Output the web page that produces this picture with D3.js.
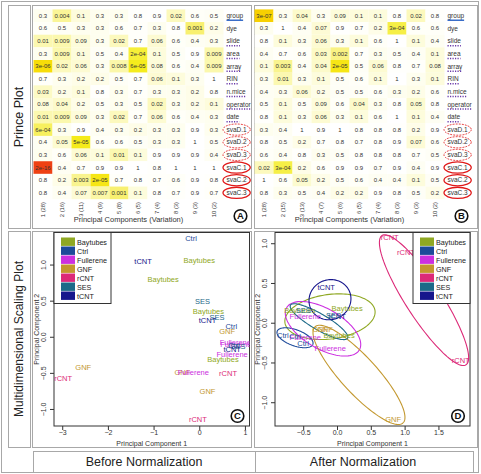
<!DOCTYPE html>
<html><head><meta charset="utf-8">
<script src="https://cdn.jsdelivr.net/npm/d3@7"></script>
<style>body{margin:0;background:#fff} svg{display:block;font-family:"Liberation Sans",Arial,sans-serif}</style>
</head><body><svg id="c" width="481" height="474"></svg>
<script>
// ---------------- DATA ----------------
const rowLabels = ["group","dye","slide","area","array","RIN","n.mice","operator","date","svaD.1","svaD.2","svaD.3","svaC.1","svaC.2","svaC.3"];
const colLabelsA = ["1 (28)","2 (16)","3 (11)","4 (9)","5 (8)","6 (5)","7 (4)","8 (3)","9 (3)","10 (2)"];
const colLabelsB = ["1 (28)","2 (15)","3 (13)","4 (7)","5 (6)","6 (5)","7 (4)","8 (3)","9 (3)","10 (2)"];
const pvalsA = [
 ["0.3","0.004","0.1","0.3","0.3","0.8","0.9","0.02","0.6","0.5"],
 ["0.6","0.5","0.3","0.3","0.6","0.7","0.3","0.8","0.001","0.2"],
 ["0.01","0.009","0.09","0.3","0.02","0.7","0.06","0.6","0.4","0.3"],
 ["0.3","0.009","0.1","0.5","0.4","2e-04","0.1","0.5","0.9","0.009"],
 ["3e-06","0.02","0.06","0.3","0.008","6e-05","0.08","0.6","0.4","0.009"],
 ["0.7","0.3","0.2","0.2","0.5","0.7","0.06","0.1","0.3","1"],
 ["0.03","0.2","0.1","0.8","0.3","0.7","0.3","0.3","0.2","0.8"],
 ["0.08","0.04","0.2","0.5","0.3","0.5","0.02","0.3","0.2","0.1"],
 ["0.01","0.009","0.09","0.3","0.02","0.7","0.06","0.6","0.4","0.3"],
 ["6e-04","0.3","0.9","0.4","0.3","0.2","0.3","0.3","0.9","0.3"],
 ["0.4","0.05","5e-05","0.6","0.6","0.5","0.3","0.3","1","0.5"],
 ["0.3","0.6","0.06","0.1","0.01","0.1","0.9","0.9","0.9","0.4"],
 ["2e-16","0.4","0.7","0.9","0.9","1","0.8","1","1","1"],
 ["0.8","0.2","0.003","2e-05","0.7","0.8","0.7","0.6","0.9","0.8"],
 ["0.8","0.4","0.07","0.007","0.001","0.1","0.8","0.7","0.9","0.7"]
];
const pvalsB = [
 ["3e-07","0.3","0.04","0.3","0.09","0.1","0.1","0.8","0.02","0.8"],
 ["0.3","1","0.4","0.07","0.9","0.7","0.2","3e-04","0.6","0.6"],
 ["0.8","0.1","0.3","0.06","0.3","0.1","0.6","1","0.1","0.4"],
 ["0.4","0.7","0.6","0.03","0.002","0.7","0.3","0.5","0.4","0.1"],
 ["0.1","0.003","0.4","0.04","2e-05","0.5","0.06","0.8","0.7","0.08"],
 ["0.3","0.01","0.3","0.1","0.5","0.6","0.1","1","0.3","0.1"],
 ["0.4","0.3","0.06","0.2","0.5","0.5","0.6","0.3","0.2","0.6"],
 ["0.5","0.1","0.5","0.09","0.6","0.04","0.3","0.8","0.05","0.8"],
 ["0.8","0.1","0.3","0.06","0.3","0.1","0.6","1","0.1","0.4"],
 ["0.3","0.4","1","0.9","1","0.8","0.8","0.8","0.2","0.9"],
 ["0.8","0.5","0.2","0.7","0.8","0.7","0.8","0.9","0.07","0.6"],
 ["0.6","0.4","0.8","0.3","0.5","0.8","0.8","0.8","0.7","0.5"],
 ["0.02","3e-04","0.2","0.6","0.9","0.9","0.7","0.9","0.4","0.9"],
 ["1","0.6","0.05","0.2","0.5","0.6","0.4","0.4","0.1","0.5"],
 ["0.8","0.3","0.5","0.4","0.2","0.2","0.9","0.8","0.5","0.2"]
];
const groups = ["Baytubes","Ctrl","Fullerene","GNF","rCNT","SES","tCNT"];
const groupColors = ["#8fa823","#1d4a9a","#cc30e0","#c3982f","#dc2a78","#1d6a88","#16168c"];

const beforeLabels = ["Ctrl","tCNT","Baytubes","Baytubes","SES","Baytubes","SES","tCNT","Ctrl","GNF","Fullerene","Fullerene","Ctrl","SES","tCNT","Fullerene","Baytubes","GNF","rCNT","GNF","Fullerene","rCNT","GNF","rCNT"];
const beforeX = [-0.18,-1.23,0.0,-0.79,0.07,0.2,0.39,0.18,0.70,0.61,0.79,0.80,0.76,0.85,0.72,0.72,0.52,-2.54,-2.98,-0.37,-0.13,0.63,0.18,-0.03];
const beforeY = [1.36,1.04,1.06,0.80,0.49,0.35,0.27,0.23,0.14,0.08,-0.08,-0.10,-0.12,-0.13,-0.18,-0.24,-0.31,-0.42,-0.57,-0.49,-0.49,-0.51,-0.76,-1.14];

const afterLabels = ["rCNT","rCNT","rCNT","tCNT","tCNT","Baytubes","Baytubes","Baytubes","SES","SES","Fullerene","Fullerene","Fullerene","Ctrl","Ctrl","Ctrl","GNF","GNF","GNF"];
const afterX = [0.78,1.02,1.83,-0.16,0.0,0.15,-0.55,0.03,-0.50,-0.05,-0.47,-0.47,-0.10,-0.80,-0.50,-0.62,-0.25,-0.18,0.83];
const afterY = [1.07,0.88,-0.48,0.45,0.08,0.18,0.15,-0.16,0.15,0.09,0.08,-0.18,-0.32,-0.16,-0.26,-0.17,-0.08,-0.08,-1.21];

// ellipses (after normalization): centre and two half-axis vectors in data units
const ellGroups = ["Baytubes","Ctrl","Fullerene","GNF","rCNT","SES","tCNT"];
const ellCx = [-0.104,-0.621,-0.207,0.325,1.287,-0.266,-0.104];
const ellCy = [0.076,-0.189,-0.076,-0.656,0.284,0.013,0.29];
const ellAx = [0.666,0.264,0.538,0.651,0.621,0.423,0.31];
const ellAy = [0.076,-0.082,-0.265,-0.605,-0.813,-0.208,0.02];
const ellBx = [0.044,-0.04,-0.148,-0.197,-0.223,-0.059,0.01];
const ellBy = [-0.277,-0.095,-0.218,-0.154,-0.124,-0.087,-0.252];

const ticksC_x = [-3,-2,-1,0,1];
const ticksD_x = [-0.5,0,0.5,1,1.5];
const ticksY = [-1,-0.5,0,0.5,1];

// ---------------- DRAW ----------------
const svg = d3.select("#c");
const colorOf = g => groupColors[groups.indexOf(g)];
const frame = "#a8a8a8";

// outer frame and panel boxes
svg.append("rect").attr("x",1.5).attr("y",1.5).attr("width",477).attr("height",471).attr("fill","none").attr("stroke",frame);
[[8,5,22,223],[8,231,22,216],[32,5,219,223],[254,5,223,223],[32,231,219,216],[254,231,223,216],[33,451,222,21],[255,451,218,21]]
 .forEach(r=>svg.append("rect").attr("x",r[0]+0.5).attr("y",r[1]+0.5).attr("width",r[2]).attr("height",r[3]).attr("fill","none").attr("stroke",frame));

svg.append("text").attr("transform","translate(23,117) rotate(-90)").attr("text-anchor","middle").attr("font-size",12.5).attr("fill","#222").text("Prince Plot");
svg.append("text").attr("transform","translate(23,339) rotate(-90)").attr("text-anchor","middle").attr("font-size",12).attr("fill","#222").text("Multidimensional Scaling Plot");
svg.append("text").attr("x",144).attr("y",466).attr("text-anchor","middle").attr("font-size",12.5).attr("fill","#222").text("Before Normalization");
svg.append("text").attr("x",363).attr("y",466).attr("text-anchor","middle").attr("font-size",12.5).attr("fill","#222").text("After Normalization");

const heatColor = d3.scaleLinear()
  .domain([0,0.5,1,2,3,4,6,16])
  .range(["#ffffff","#fefef0","#fdfcdc","#fbf8b0","#f8f070","#f5ee20","#f8d800","#ee3c14"]).clamp(true);

function circleTag(x,y,t){
  svg.append("circle").attr("cx",x).attr("cy",y).attr("r",6.3).attr("fill","#fff").attr("stroke","#111").attr("stroke-width",1.6);
  svg.append("text").attr("x",x).attr("y",y+3.3).attr("text-anchor","middle").attr("font-size",9.5).attr("font-weight","bold").attr("fill","#111").text(t);
}

function drawHeat(x0, vals, cols, tag){
  const xs = d3.scaleBand().domain(cols).range([x0, x0+190]);
  const ys = d3.scaleBand().domain(rowLabels).range([9.4, 199.2]);
  const g = svg.append("g");
  vals.forEach((row,i)=>row.forEach((v,j)=>{
    const p = parseFloat(v);
    g.append("rect").attr("x",xs(cols[j])).attr("y",ys(rowLabels[i])).attr("width",xs.bandwidth()).attr("height",ys.bandwidth())
      .attr("fill",heatColor(-Math.log10(p)));
    g.append("text").attr("x",xs(cols[j])+xs.bandwidth()/2).attr("y",ys(rowLabels[i])+ys.bandwidth()/2+2.1)
      .attr("text-anchor","middle").attr("font-size",6).attr("fill","#333").text(v);
  }));
  // row labels
  rowLabels.forEach((r,i)=>{
    const lx = x0+193, ly = ys(r)+ys.bandwidth()/2+2.2;
    const t = g.append("text").attr("x",lx).attr("y",ly).attr("font-size",6.5).attr("fill","#333").text(r);
    const w = t.node().getComputedTextLength();
    if(r==="group") g.append("line").attr("x1",lx).attr("x2",lx+w).attr("y1",ly+2.3).attr("y2",ly+2.3).attr("stroke","#2a62c4").attr("stroke-width",1.4);
    else if(["slide","area","array","RIN","n.mice","operator","date"].includes(r))
      g.append("line").attr("x1",lx).attr("x2",lx+w).attr("y1",ly+2.6).attr("y2",ly+2.6).attr("stroke","#6a3aa8").attr("stroke-width",1.5).attr("stroke-dasharray","1.2,1.3");
    else if(r.startsWith("sva")){
      const e = g.append("ellipse").attr("cx",lx+w/2).attr("cy",ly-2.2).attr("rx",w/2+3.5).attr("ry",5.6).attr("fill","none").attr("stroke","#e01818");
      if(r.startsWith("svaD")) e.attr("stroke-width",0.9).attr("stroke-dasharray","1.8,1.2"); else e.attr("stroke-width",1.3);
    }
  });
  cols.forEach(c=>{
    g.append("text").attr("transform",`translate(${xs(c)+xs.bandwidth()/2+2},202) rotate(-90)`).attr("text-anchor","end").attr("font-size",5.8).attr("fill","#333").text(c);
  });
  g.append("text").attr("x",x0+95).attr("y",222).attr("text-anchor","middle").attr("font-size",7.5).attr("fill","#333").text("Principal Components (Variation)");
  circleTag(x0+207, 216, tag);
}
drawHeat(33.5, pvalsA, colLabelsA, "A");
drawHeat(254.5, pvalsB, colLabelsB, "B");

function drawMDS(id, box, xDom, yDom, xt, yt, fmtX, labels, X, Y, legendLeft, tag, ellipses){
  const [L,T,R,B] = box;
  const x = d3.scaleLinear().domain(xDom).range([L,R]);
  const y = d3.scaleLinear().domain(yDom).range([B,T]);
  svg.append("clipPath").attr("id",id).append("rect").attr("x",L).attr("y",T).attr("width",R-L).attr("height",B-T);
  const g = svg.append("g");
  g.append("rect").attr("x",L).attr("y",T).attr("width",R-L).attr("height",B-T).attr("fill","none").attr("stroke","#333").attr("stroke-width",1);
  // x axis
  const ax = g.append("g").attr("transform",`translate(0,${B})`).call(d3.axisBottom(x).tickValues(xt).tickSize(4).tickFormat(fmtX));
  ax.select(".domain").remove();
  ax.selectAll("line").attr("stroke","#333");
  ax.selectAll("text").attr("font-size",7).attr("fill","#333").attr("dy","0.3em").attr("font-family","Liberation Sans, Arial, sans-serif");
  // y axis with rotated labels
  const ay = g.append("g").attr("transform",`translate(${L},0)`).call(d3.axisLeft(y).tickValues(yt).tickSize(4).tickFormat(d3.format(".1f")));
  ay.select(".domain").remove();
  ay.selectAll("line").attr("stroke","#333");
  ay.selectAll("text").attr("font-size",7).attr("fill","#333").attr("x",null).attr("dy",null)
    .attr("text-anchor","middle").attr("transform","translate(-8,0) rotate(-90)").attr("font-family","Liberation Sans, Arial, sans-serif");
  g.append("text").attr("x",(L+R)/2).attr("y",B+20).attr("text-anchor","middle").attr("font-size",7).attr("fill","#333").text("Principal Component 1");
  g.append("text").attr("transform",`translate(${L-15},${(T+B)/2}) rotate(-90)`).attr("text-anchor","middle").attr("font-size",7).attr("fill","#333").text("Principal Component 2");

  const inner = g.append("g").attr("clip-path",`url(#${id})`);
  if(ellipses){
    ellGroups.forEach((eg,i)=>{
      const pts = d3.range(0,2*Math.PI+0.01,Math.PI/60).map(t=>[x(ellCx[i]+Math.cos(t)*ellAx[i]+Math.sin(t)*ellBx[i]), y(ellCy[i]+Math.cos(t)*ellAy[i]+Math.sin(t)*ellBy[i])]);
      inner.append("path").attr("d",d3.line()(pts)).attr("fill","none").attr("stroke",colorOf(eg)).attr("stroke-width",1.1);
    });
  }
  labels.forEach((lab,i)=>{
    inner.append("text").attr("x",x(X[i])).attr("y",y(Y[i])+2.6).attr("text-anchor","middle").attr("font-size",7.5).attr("fill",colorOf(lab)).text(lab);
  });
  // legend
  const lw=57, lh=71;
  const lx = legendLeft ? L : R-lw, ly = T;
  const lg = g.append("g");
  lg.append("rect").attr("x",lx).attr("y",ly).attr("width",lw).attr("height",lh).attr("fill","#fff").attr("stroke","#333");
  groups.forEach((gr,i)=>{
    lg.append("rect").attr("x",lx+7).attr("y",ly+5+i*9).attr("width",14).attr("height",8.4).attr("fill",groupColors[i]);
    lg.append("text").attr("x",lx+23).attr("y",ly+12+i*9).attr("font-size",7.2).attr("fill","#222").text(gr);
  });
  circleTag(R-12, B-10, tag);
}
drawMDS("clipC",[54,232.5,249.5,426],[-3.18,1.10],[-1.236,1.444],ticksC_x,ticksY,d3.format("d"),beforeLabels,beforeX,beforeY,true,"C",false);
drawMDS("clipD",[275,232.5,470,426],[-0.917,1.967],[-1.299,1.135],ticksD_x,ticksY,d3.format(".1f"),afterLabels,afterX,afterY,false,"D",true);
</script></body></html>
